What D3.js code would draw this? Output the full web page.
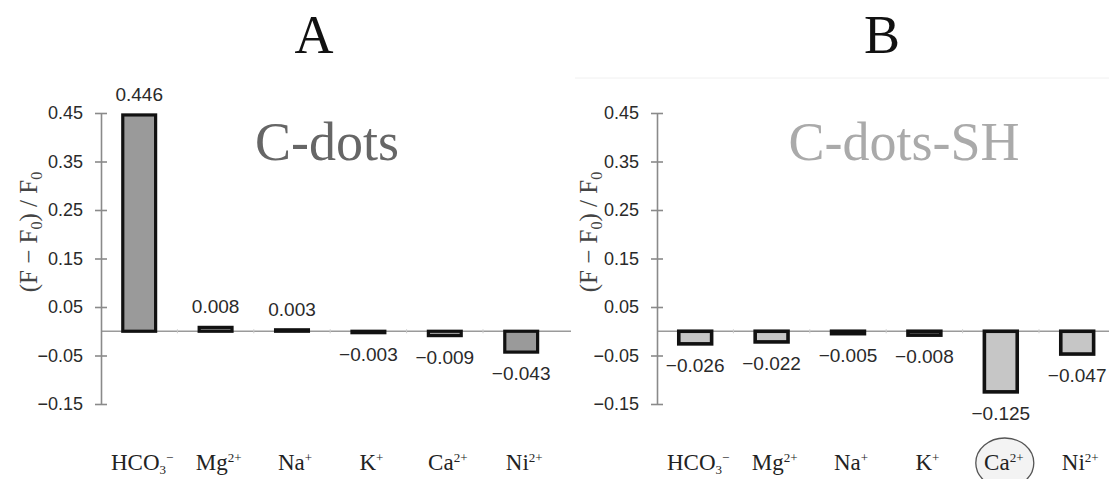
<!DOCTYPE html>
<html>
<head>
<meta charset="utf-8">
<script src="https://cdn.jsdelivr.net/npm/d3@7"></script>
<style>
  body { margin: 0; background: #fff; }
  svg { display: block; }
</style>
</head>
<body>
<svg id="chart" width="1109" height="479"></svg>
<script>
// ion names, split in base / subscript / superscript
var ionBase = ["HCO", "Mg", "Na", "K", "Ca", "Ni"];
var ionSub = ["3", "", "", "", "", ""];
var ionSup = ["\u2212", "2+", "+", "+", "2+", "2+"];
var ions = ["HCO3-", "Mg2+", "Na+", "K+", "Ca2+", "Ni2+"];

// (F - F0) / F0
var valuesA = [0.446, 0.008, 0.003, -0.003, -0.009, -0.043];
var valuesB = [-0.026, -0.022, -0.005, -0.008, -0.125, -0.047];

var yTicks = [0.45, 0.35, 0.25, 0.15, 0.05, -0.05, -0.15];
var circledB = "Ca2+";

var svg = d3.select("#chart");

function fmt(v) {
  var s = Math.abs(v).toFixed(3);
  return v < 0 ? "\u2212" + s : s;
}

function fmtTick(v) {
  var s = Math.abs(v).toFixed(2);
  return v < 0 ? "\u2212" + s : s;
}

function drawPanel(opts) {
  var g = svg.append("g");
  var x = d3.scaleBand().domain(ions).range([opts.left, opts.left + 458.4])
    .paddingInner(0.57).paddingOuter(0.285);
  var y = d3.scaleLinear().domain([-0.15, 0.45]).range([404, 113]);

  // panel letter and sample name
  g.append("text").attr("x", opts.letterX).attr("y", 53)
    .attr("text-anchor", "middle")
    .style("font-family", "'Liberation Serif', serif").style("font-size", "54px")
    .style("fill", "#111").text(opts.letter);
  g.append("text").attr("x", opts.nameX).attr("y", 160)
    .attr("text-anchor", "middle")
    .style("font-family", "'Liberation Serif', serif").style("font-size", "54px")
    .style("fill", opts.nameColor).text(opts.name);

  // zero line
  g.append("line")
    .attr("x1", opts.left).attr("x2", Math.min(opts.left + 470, 1109))
    .attr("y1", y(0)).attr("y2", y(0))
    .style("stroke", "#9a9a9a").style("stroke-width", 1.3);

  // small ticks on zero line between categories
  g.selectAll(".sep").data(ions.slice(1)).enter().append("line")
    .attr("x1", function(d) { return x(d) - x.step() * 0.285; })
    .attr("x2", function(d) { return x(d) - x.step() * 0.285; })
    .attr("y1", y(0) - 2).attr("y2", y(0) + 2)
    .style("stroke", "#ccc").style("stroke-width", 1);

  // y axis
  var axis = d3.axisLeft(y).tickValues(yTicks).tickFormat(fmtTick)
    .tickSizeInner(6).tickSizeOuter(0).tickPadding(12);
  var ax = g.append("g").attr("transform", "translate(" + opts.left + ",0)").call(axis);
  ax.select(".domain").style("stroke", "#8a8a8a").style("stroke-width", 1.6);
  ax.selectAll(".tick line").attr("x1", -6).attr("x2", 6)
    .style("stroke", "#8a8a8a").style("stroke-width", 1.6);
  ax.selectAll(".tick text")
    .style("font-family", "'Liberation Sans', Arial, sans-serif")
    .style("font-size", "18px").style("fill", "#2a2a2a");

  // y axis title
  var title = g.append("text")
    .attr("transform", "translate(" + opts.titleX + ",232) rotate(-90)")
    .attr("text-anchor", "middle")
    .style("font-family", "'Liberation Serif', serif").style("font-size", "25px")
    .style("fill", "#444");
  title.append("tspan").text("(F \u2212 F");
  title.append("tspan").attr("dy", 5).style("font-size", "16px").text("0");
  title.append("tspan").attr("dy", -5).text(") / F");
  title.append("tspan").attr("dy", 5).style("font-size", "16px").text("0");

  // bars
  g.selectAll(".bar").data(opts.values).enter().append("rect")
    .attr("x", function(d, i) { return x(ions[i]); })
    .attr("width", x.bandwidth())
    .attr("y", function(d) { return y(Math.max(0, d)); })
    .attr("height", function(d) { return Math.abs(y(d) - y(0)); })
    .style("fill", opts.fill).style("stroke", "#111")
    .style("stroke-width", opts.strokeWidth);

  // value labels
  g.selectAll(".val").data(opts.values).enter().append("text")
    .attr("x", function(d, i) { return x(ions[i]) + x.bandwidth() / 2; })
    .attr("y", function(d) { return d >= 0 ? y(d) - 14 : y(d) + 28; })
    .attr("text-anchor", "middle")
    .style("font-family", "'Liberation Sans', Arial, sans-serif")
    .style("font-size", "19px").style("fill", "#2a2a2a")
    .text(fmt);

  // circled category
  if (opts.circled) {
    g.append("ellipse")
      .attr("cx", x(opts.circled) + x.bandwidth() / 2 + 4).attr("cy", 463)
      .attr("rx", 29).attr("ry", 25)
      .style("fill", "#f3f3f3").style("stroke", "#555").style("stroke-width", 1.3);
  }

  // category labels
  ions.forEach(function(ion, i) {
    var t = g.append("text")
      .attr("x", x(ion) + x.bandwidth() / 2 + 3).attr("y", 470)
      .attr("text-anchor", "middle")
      .style("font-family", "'Liberation Serif', serif").style("font-size", "23px")
      .style("fill", "#222");
    t.append("tspan").text(ionBase[i]);
    if (ionSub[i]) {
      t.append("tspan").attr("dy", 4).style("font-size", "13px").text(ionSub[i]);
      t.append("tspan").attr("dy", -12).style("font-size", "13px").text(ionSup[i]);
    } else {
      t.append("tspan").attr("dy", -8).style("font-size", "13px").text(ionSup[i]);
    }
  });
}

drawPanel({
  left: 101, values: valuesA, fill: "#9a9a9a", strokeWidth: 3.2,
  letter: "A", letterX: 314, name: "C-dots", nameX: 327, nameColor: "#666",
  titleX: 37
});

// faint frame line at top of panel B
svg.append("line").attr("x1", 575).attr("x2", 1109).attr("y1", 78).attr("y2", 78)
  .style("stroke", "#f0f0f0").style("stroke-width", 1);

drawPanel({
  left: 657, values: valuesB, fill: "#c6c6c6", strokeWidth: 3.6,
  letter: "B", letterX: 882, name: "C-dots-SH", nameX: 904, nameColor: "#aaa",
  titleX: 597, circled: circledB
});
</script>
</body>
</html>
